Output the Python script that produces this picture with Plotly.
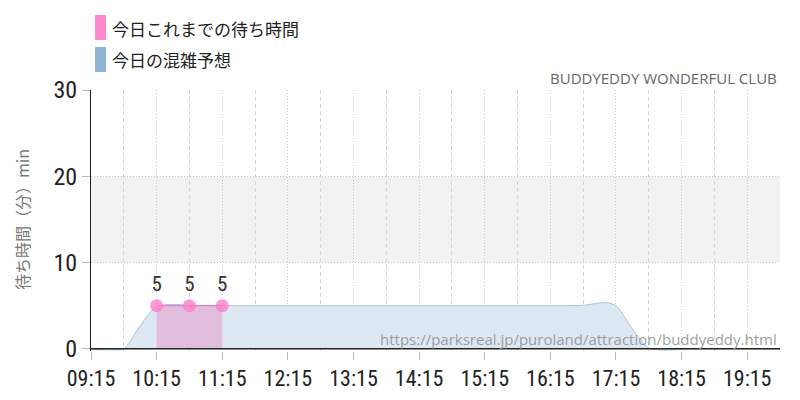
import plotly.graph_objects as go

# ---- data ----
day = "2024-01-01 "
forecast_times = ["09:15", "09:30", "09:45", "10:00", "10:15", "10:30", "10:45", "11:15",
                  "12:15", "13:15", "14:15", "15:15", "16:15", "16:45", "17:05", "17:15",
                  "17:30", "17:45", "18:00", "18:15", "18:30", "19:15", "19:45"]
forecast_vals = [-0.1, -0.1, 0.0, 2.7, 4.9, 5.15, 5.05, 5.0,
                 5.0, 5.0, 5.0, 5.0, 5.0, 5.05, 5.35, 5.0,
                 2.3, 0.1, -0.15, -0.05, 0.0, 0.0, 0.0]
actual_times = ["10:15", "10:45", "11:15"]
actual_vals = [5, 5, 5]
tick_labels = ["09:15", "10:15", "11:15", "12:15", "13:15", "14:15", "15:15",
               "16:15", "17:15", "18:15", "19:15"]
legend_names = ["今日これまでの待ち時間", "今日の混雑予想"]
y_title = "待ち時間（分）min"
park_title = "BUDDYEDDY WONDERFUL CLUB"
url_text = "https://parksreal.jp/puroland/attraction/buddyeddy.html"

W, H = 800, 400
ML, MR, MT, MB = 91, 20, 90, 49
PW, PH = W - ML - MR, H - MT - MB


def px(x):
    return (x - ML) / PW


def py(y):
    return (H - MB - y) / PH


cond = "Roboto Condensed, Liberation Sans, sans-serif"
jp = "Noto Sans CJK JP, Noto Sans, sans-serif"

fig = go.Figure()
fig.add_trace(go.Scatter(
    x=[day + t for t in forecast_times], y=forecast_vals,
    mode="lines", line=dict(color="#a9c6de", width=1, shape="spline", smoothing=0.8),
    fill="tozeroy", fillcolor="#dee8f2", hoverinfo="skip", showlegend=False))
fig.add_trace(go.Scatter(
    x=[day + t for t in actual_times], y=actual_vals,
    mode="lines+markers+text", line=dict(color="#e070c0", width=1),
    marker=dict(color="rgba(255,120,200,0.75)", size=13),
    fill="tozeroy", fillcolor="rgba(225,190,222,1)",
    text=[str(v) for v in actual_vals], textposition="top center",
    textfont=dict(family=cond, size=21, color="#333"),
    cliponaxis=False, hoverinfo="skip", showlegend=False))

fig.update_layout(
    width=W, height=H, margin=dict(l=ML, r=MR, t=MT, b=MB),
    paper_bgcolor="white", plot_bgcolor="white", showlegend=False,
    xaxis=dict(
        type="date", range=[day + "09:15", day + "19:45"], automargin=False,
        tickmode="array", tickvals=[day + t for t in tick_labels], ticktext=tick_labels,
        tickfont=dict(family=cond, size=22, color="#222"),
        ticks="outside", ticklen=8, tickcolor="#bbb",
        showgrid=True, gridcolor="#c8c8c8", griddash="1px,2px", gridwidth=1,
        minor=dict(tickmode="array",
                   tickvals=[day + "%02d:45" % h for h in range(9, 20)],
                   showgrid=True, gridcolor="#d6d6d6", griddash="4px,3px", ticks=""),
        showline=False, zeroline=False, fixedrange=True),
    yaxis=dict(
        range=[-0.25, 30], tickvals=[0, 10, 20, 30], automargin=False,
        tickfont=dict(family=cond, size=24, color="#222"),
        ticks="outside", ticklen=8, tickcolor="#bbb",
        showgrid=True, gridcolor="#c8c8c8", griddash="1px,2px",
        showline=True, linecolor="#222", linewidth=1, zeroline=False, fixedrange=True),
)

# grey band 10-20
fig.add_shape(type="rect", xref="paper", yref="y", x0=0, x1=1, y0=10, y1=20,
              fillcolor="#f2f2f2", line_width=0, layer="below")
# baseline at 0
fig.add_shape(type="line", xref="paper", yref="y", x0=0, x1=1, y0=0, y1=0,
              line=dict(color="#222", width=1.5))

# legend
legend_colors = ["#ff88cc", "#8fb3d3"]
for i, (name, col) in enumerate(zip(legend_names, legend_colors)):
    top = 15 + i * 32
    fig.add_shape(type="rect", xref="paper", yref="paper",
                  x0=px(95), x1=px(106), y0=py(top), y1=py(top + 25),
                  fillcolor=col, line_width=0)
    fig.add_annotation(xref="paper", yref="paper", x=px(110), y=py(top + 13),
                       text=name, showarrow=False, xanchor="left", yanchor="middle",
                       font=dict(family=jp, size=17, color="#222"))

fig.add_annotation(xref="paper", yref="paper", x=px(779), y=py(78), text=park_title,
                   showarrow=False, xanchor="right", yanchor="middle",
                   font=dict(family="Open Sans, Noto Sans, sans-serif", size=15, color="#666"))
fig.add_annotation(xref="paper", yref="paper", x=px(779), y=py(339), text=url_text,
                   showarrow=False, xanchor="right", yanchor="middle",
                   font=dict(family="Open Sans, Noto Sans, sans-serif", size=15,
                             color="rgba(140,140,140,0.85)"))
fig.add_annotation(xref="paper", yref="paper", x=px(22), y=py(220), text=y_title,
                   showarrow=False, textangle=-90, xanchor="center", yanchor="middle",
                   font=dict(family=jp, size=16, color="#777"))

fig.write_html("out.html", config={"displayModeBar": False},
               post_script="document.body.style.margin='0';")
